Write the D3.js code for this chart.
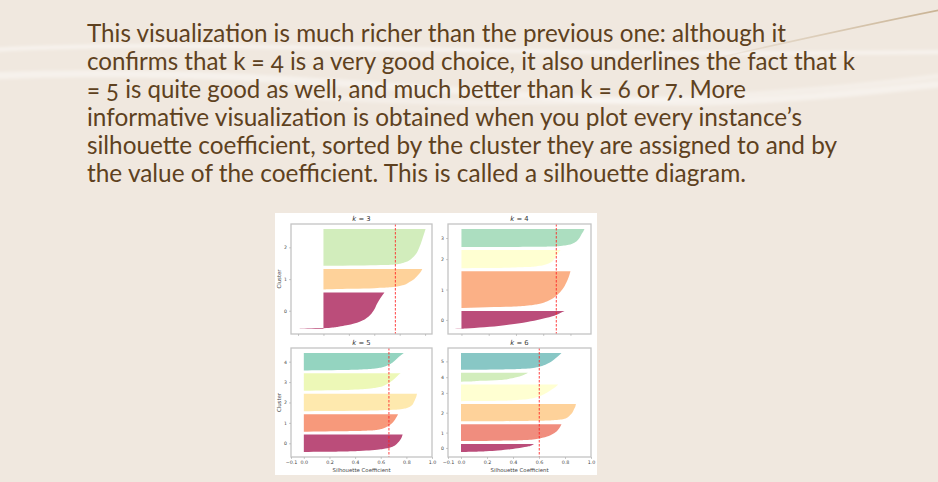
<!DOCTYPE html>
<html>
<head>
<meta charset="utf-8">
<script src="https://cdn.jsdelivr.net/npm/d3@7"></script>
<style>
  body { margin: 0; background: #f0e8df; }
  svg { display: block; }
  .para { font-feature-settings: "onum" 1; font-variant-numeric: oldstyle-nums; }
</style>
</head>
<body>
<script>
// slide text, one entry per line
const paragraphLines = [
  "This visualization is much richer than the previous one: although it",
  "confirms that k = 4 is a very good choice, it also underlines the fact that k",
  "= 5 is quite good as well, and much better than k = 6 or 7. More",
  "informative visualization is obtained when you plot every instance\u2019s",
  "silhouette coefficient, sorted by the cluster they are assigned to and by",
  "the value of the coefficient. This is called a silhouette diagram."
];
const lineWidths = [699, 768, 659, 715, 750, 659];

// silhouette data
const kValues = [3, 4, 5, 6];
const silhouetteScores = [0.566, 0.696, 0.664, 0.602];

// each cluster's sorted coefficients sampled at these fractions of its height
const profileFractions = [0, 0.01, 0.03, 0.06, 0.1, 0.2, 0.35, 0.5, 0.7, 0.85, 1];

const sizesK3 = [778, 438, 784];
const coeffsK3 = [
  [-0.205, -0.17, 0.04, 0.117, 0.182, 0.285, 0.358, 0.394, 0.423, 0.449, 0.48],
  [-0.018, 0.065, 0.22, 0.40, 0.53, 0.623, 0.674, 0.713, 0.745, 0.765, 0.778],
  [0.013, 0.27, 0.545, 0.61, 0.648, 0.695, 0.734, 0.755, 0.776, 0.79, 0.804]
];

const sizesK4 = [398, 806, 398, 398];
const coeffsK4 = [
  [-0.051, -0.015, 0.034, 0.095, 0.168, 0.302, 0.453, 0.557, 0.667, 0.715, 0.757],
  [0.005, 0.13, 0.326, 0.472, 0.557, 0.642, 0.703, 0.74, 0.771, 0.788, 0.80],
  [0.005, 0.156, 0.35, 0.472, 0.545, 0.618, 0.662, 0.681, 0.70, 0.713, 0.727],
  [0.01, 0.42, 0.667, 0.727, 0.769, 0.817, 0.849, 0.866, 0.88, 0.893, 0.903]
];

const sizesK5 = [400, 400, 400, 400, 400];
const coeffsK5 = [
  [0.0, 0.14, 0.30, 0.43, 0.53, 0.636, 0.704, 0.73, 0.753, 0.764, 0.771],
  [-0.026, 0.17, 0.40, 0.506, 0.566, 0.623, 0.665, 0.69, 0.712, 0.725, 0.735],
  [0.0, 0.17, 0.43, 0.61, 0.74, 0.81, 0.845, 0.857, 0.87, 0.878, 0.883],
  [-0.05, 0.05, 0.22, 0.38, 0.48, 0.58, 0.64, 0.675, 0.71, 0.73, 0.755],
  [0.0, 0.12, 0.30, 0.45, 0.54, 0.62, 0.67, 0.70, 0.73, 0.755, 0.78]
];

const sizesK6 = [192, 398, 406, 392, 214, 398];
const coeffsK6 = [
  [0.0, 0.039, 0.103, 0.155, 0.193, 0.284, 0.379, 0.451, 0.52, 0.546, 0.562],
  [0.0, 0.193, 0.387, 0.49, 0.554, 0.626, 0.688, 0.724, 0.75, 0.763, 0.773],
  [0.0, 0.322, 0.58, 0.709, 0.765, 0.812, 0.838, 0.856, 0.869, 0.879, 0.884],
  [0.0, 0.142, 0.309, 0.412, 0.477, 0.562, 0.619, 0.657, 0.698, 0.727, 0.747],
  [-0.034, -0.008, 0.052, 0.103, 0.155, 0.296, 0.379, 0.425, 0.472, 0.497, 0.515],
  [0.0, 0.193, 0.374, 0.477, 0.541, 0.606, 0.66, 0.696, 0.73, 0.753, 0.773]
];

const bottomTicks = [-0.1, 0, 0.2, 0.4, 0.6, 0.8, 1];

const width = 938;
const height = 482;

const svg = d3.select("body")
  .append("svg")
  .attr("width", width)
  .attr("height", height);

// ---- slide background swooshes ----
const defs = svg.append("defs");
const tan = defs.append("linearGradient").attr("id", "tanFade");
tan.append("stop").attr("offset", "0%").attr("stop-color", "#c9b394").attr("stop-opacity", 0);
tan.append("stop").attr("offset", "100%").attr("stop-color", "#c9b394").attr("stop-opacity", 1);

const blur = defs.append("filter").attr("id", "soft");
blur.append("feGaussianBlur").attr("stdDeviation", 1.5);

const swoosh = svg.append("g").attr("fill", "none").attr("filter", "url(#soft)");
swoosh.append("path")
  .attr("d", "M-10,50 C200,38 520,58 940,52")
  .attr("stroke", "#fff").attr("stroke-opacity", 0.45).attr("stroke-width", 4);
swoosh.append("path")
  .attr("d", "M-10,76 C260,64 520,104 700,102 C800,100 880,90 940,84")
  .attr("stroke", "#fff").attr("stroke-opacity", 0.4).attr("stroke-width", 7);
swoosh.append("path")
  .attr("d", "M300,96 C500,110 760,100 940,76")
  .attr("stroke", "#fff").attr("stroke-opacity", 0.3).attr("stroke-width", 5);
svg.append("path")
  .attr("d", "M690,64 C770,46 860,26 940,10")
  .attr("fill", "none")
  .attr("stroke", "url(#tanFade)")
  .attr("stroke-width", 1.6);

// ---- paragraph ----
svg.append("g")
  .selectAll("text")
  .data(paragraphLines)
  .join("text")
  .attr("class", "para")
  .attr("x", 87)
  .attr("y", (d, i) => 41.5 + i * 28)
  .attr("font-family", "Lato, 'Open Sans', sans-serif")
  .attr("font-size", 25)
  .attr("fill", "#5e4120")
  .attr("textLength", (d, i) => lineWidths[i])
  .attr("lengthAdjust", "spacingAndGlyphs")
  .text(d => d);

// ---- figure ----
svg.append("rect")
  .attr("x", 275).attr("y", 213)
  .attr("width", 322).attr("height", 262)
  .attr("fill", "#fff");

const spectral = d3.scaleLinear()
  .domain(d3.range(11).map(i => i / 10))
  .range(d3.schemeSpectral[11])
  .interpolate(d3.interpolateRgb);

const colLeft = [291, 448];
const colWidth = [141, 143];
const rowTop = [224, 348];
const rowHeight = [110, 109];

const panels = [
  {sizes: sizesK3, coeffs: coeffsK3},
  {sizes: sizesK4, coeffs: coeffsK4},
  {sizes: sizesK5, coeffs: coeffsK5},
  {sizes: sizesK6, coeffs: coeffsK6}
];

const font = "'DejaVu Sans', sans-serif";
const fmt = d3.format(".1f");

panels.forEach((p, idx) => {
  const k = kValues[idx];
  const col = idx % 2, row = Math.floor(idx / 2);
  const x0 = colLeft[col], w = colWidth[col];
  const y0 = rowTop[row], h = rowHeight[row];
  const g = svg.append("g");

  const total = d3.sum(p.sizes);
  const padding = Math.floor(total / 30);

  // cluster layout like the matplotlib code: stacked from the bottom
  let pos = padding;
  const bands = p.sizes.map((n, i) => {
    const b = {i, n, pos, tick: pos + Math.floor(n / 2)};
    pos += n + padding;
    return b;
  });
  const yMin = padding;
  const yMax = bands[bands.length - 1].pos + bands[bands.length - 1].n - 1;
  const ySpan = yMax - yMin;
  const y = d3.scaleLinear()
    .domain([yMin - 0.05 * ySpan, yMax + 0.05 * ySpan])
    .range([y0 + h, y0]);

  let xDomain;
  if (row === 1) {
    xDomain = [-0.1, 1.0];
  } else {
    const all = p.coeffs.flat().concat([0]);
    const lo = d3.min(all), hi = d3.max(all);
    xDomain = [lo - 0.05 * (hi - lo), hi + 0.05 * (hi - lo)];
  }
  const x = d3.scaleLinear().domain(xDomain).range([x0, x0 + w]);

  const area = d3.area()
    .curve(d3.curveMonotoneY)
    .y(d => y(d.y))
    .x0(x(0))
    .x1(d => x(d.c));

  g.append("g")
    .selectAll("path")
    .data(bands)
    .join("path")
    .attr("d", b => area(profileFractions.map((f, j) => ({
      y: b.pos + f * (b.n - 1),
      c: p.coeffs[b.i][j]
    }))))
    .attr("fill", b => spectral(b.i / k))
    .attr("fill-opacity", 0.7);

  // silhouette score line
  g.append("line")
    .attr("x1", x(silhouetteScores[idx])).attr("x2", x(silhouetteScores[idx]))
    .attr("y1", y0).attr("y2", y0 + h)
    .attr("stroke", "#ff2020")
    .attr("stroke-opacity", 0.85)
    .attr("stroke-width", 1)
    .attr("stroke-dasharray", "2.5,1.5");

  // frame
  g.append("rect")
    .attr("x", x0).attr("y", y0)
    .attr("width", w).attr("height", h)
    .attr("fill", "none")
    .attr("stroke", "#c4c4c4")
    .attr("stroke-width", 1.3);

  // y axis
  const yAxis = d3.axisLeft(y)
    .tickValues(bands.map(b => b.tick))
    .tickFormat((d, i) => i)
    .tickSize(2)
    .tickPadding(2);
  const ya = g.append("g").attr("transform", `translate(${x0},0)`).call(yAxis);
  ya.select(".domain").remove();
  ya.selectAll("line").attr("stroke", "#aaa").attr("stroke-width", 0.6);
  ya.selectAll("text").attr("font-family", font).attr("font-size", 4.6).attr("fill", "#444");

  // x axis
  const xAxis = d3.axisBottom(x)
    .tickSize(2)
    .tickPadding(2);
  if (row === 1) {
    xAxis.tickValues(bottomTicks).tickFormat(fmt);
  } else {
    xAxis.ticks(5).tickFormat("");
  }
  const xa = g.append("g").attr("transform", `translate(0,${y0 + h})`).call(xAxis);
  xa.select(".domain").remove();
  xa.selectAll("line").attr("stroke", "#aaa").attr("stroke-width", 0.6);
  xa.selectAll("text").attr("font-family", font).attr("font-size", 4.8).attr("fill", "#444");

  // title
  const title = g.append("text")
    .attr("x", x0 + w / 2)
    .attr("y", y0 - 3)
    .attr("text-anchor", "middle")
    .attr("font-family", font)
    .attr("font-size", 6.8)
    .attr("fill", "#333");
  title.append("tspan").attr("font-style", "italic").text("k");
  title.append("tspan").text(" = " + k);

  if (col === 0) {
    g.append("text")
      .attr("transform", `translate(${x0 - 10},${y0 + h / 2}) rotate(-90)`)
      .attr("text-anchor", "middle")
      .attr("font-family", font)
      .attr("font-size", 5.4)
      .attr("fill", "#444")
      .text("Cluster");
  }
  if (row === 1) {
    g.append("text")
      .attr("x", x0 + w / 2)
      .attr("y", y0 + h + 15)
      .attr("text-anchor", "middle")
      .attr("font-family", font)
      .attr("font-size", 5.4)
      .attr("fill", "#444")
      .text("Silhouette Coefficient");
  }
});
</script>
</body>
</html>
